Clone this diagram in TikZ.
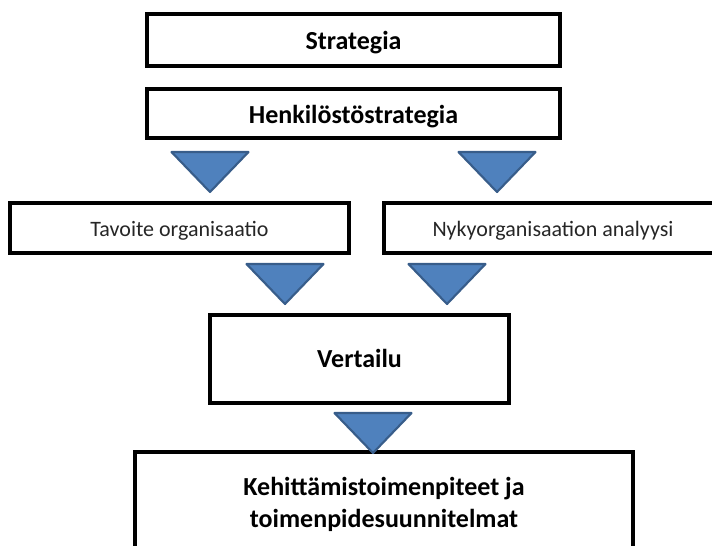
\documentclass[tikz,border=0pt]{standalone}
\usepackage{fontspec}
\setmainfont{Carlito}
\usetikzlibrary{fit}
\definecolor{triblue}{HTML}{4F81BD}
\definecolor{triedge}{HTML}{385D8A}
\begin{document}
\begin{tikzpicture}[x=0.75pt,y=-0.75pt,
  box/.style={draw=black, line width=2.6pt, fill=white, inner sep=0pt},
  big/.style={font=\fontsize{19.5}{24}\selectfont\bfseries, inner sep=0pt, anchor=base, align=center},
  small/.style={font=\fontsize{16.5}{19}\selectfont, text=black!85, inner sep=0pt, anchor=base},
  tri/.style={fill=triblue, draw=triedge, line width=1.6pt, line join=round}]
\useasboundingbox (0,0) rectangle (712,545);
\clip (0,0) rectangle (712,545);
\fill[white] (0,0) rectangle (712,545);
% boxes
\node[box, fit={(147,14) (560,66)}] (strat) {};
\node[box, fit={(147,89) (560,138)}] (henk) {};
\node[box, fit={(10,203) (349,253)}] (tavo) {};
\node[box, fit={(384,203) (722,253)}] (nyky) {};
\node[box, fit={(210,315) (509,403)}] (vert) {};
\node[box, fit={(135,452) (633,572)}] (kehi) {};
% labels
\node[big] (stratT) at (353.5,50) {Strategia};
\node[big] (henkT) at (353.5,124) {Henkilöstöstrategia};
\node[small] (tavoT) at (179.5,236) {Tavoite organisaatio};
\node[small] (nykyT) at (553,236) {Nykyorganisaation analyysi};
\node[big] (vertT) at (359.5,367) {Vertailu};
\node[big] (kehiT) at (384,527) {Kehittämistoimenpiteet ja\\toimenpidesuunnitelmat};
% triangles
\newcommand\downtri[2]{\filldraw[tri] (#1-38.5,#2) -- (#1+38.5,#2) -- (#1,#2+40) -- cycle;}
\downtri{210}{152}
\downtri{497}{152}
\downtri{285}{264}
\downtri{447}{264}
\downtri{373}{413}
\end{tikzpicture}
\end{document}
